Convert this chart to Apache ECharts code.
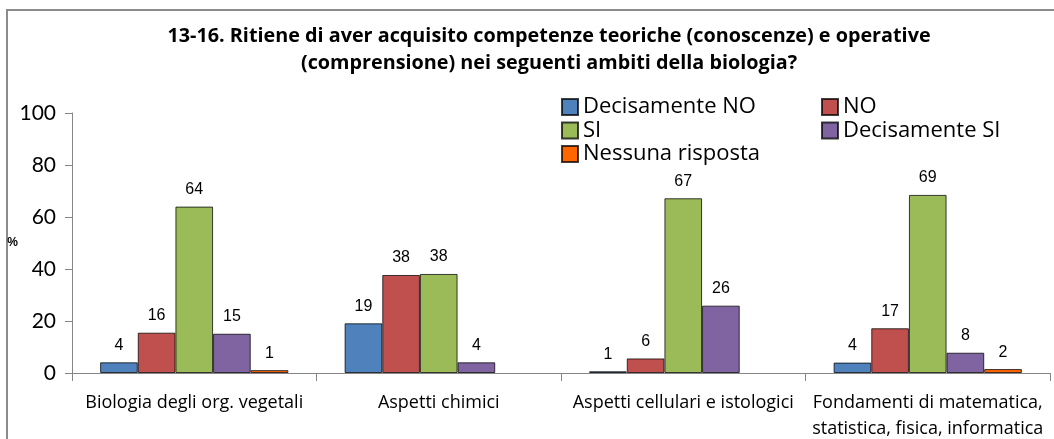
<!DOCTYPE html>
<html>
<head>
<meta charset="utf-8">
<style>
  html, body { margin: 0; padding: 0; background: #fff; }
  #chart { width: 1054px; height: 439px; }
</style>
<script src="https://cdn.jsdelivr.net/npm/echarts@6/dist/echarts.min.js"></script>
</head>
<body>
<div id="chart"></div>
<script>
// categorie e valori (%)
var categorie = ['Biologia degli org. vegetali', 'Aspetti chimici', 'Aspetti cellulari e istologici', 'Fondamenti di matematica,\nstatistica, fisica, informatica'];
var decisamenteNo = [4.1, 19.1, 0.65, 4.0];
var no = [15.5, 37.7, 5.6, 17.2];
var si = [64.0, 38.1, 67.2, 68.5];
var decisamenteSi = [15.1, 4.1, 25.9, 7.8];
var nessunaRisposta = [1.1, null, null, 1.5];
var yTicks = [0, 20, 40, 60, 80, 100];

var sans = '"Open Sans", Lato, sans-serif';
var lato = 'Lato, "Open Sans", sans-serif';
var arial = '"Liberation Sans", Arial, sans-serif';

var chart = echarts.init(document.getElementById('chart'), null, {renderer: 'canvas'});

function serie(nome, dati, colore) {
    return {
        name: nome,
        type: 'bar',
        data: dati,
        barGap: 0,
        barCategoryGap: '23%',
        itemStyle: {color: colore, borderColor: 'rgba(0,0,0,0.75)', borderWidth: 1},
        label: {
            show: true,
            position: 'top',
            distance: 9,
            fontFamily: arial,
            fontSize: 16,
            color: '#000',
            formatter: function (p) {
                return p.value == null ? '' : Math.round(p.value);
            }
        }
    };
}

var legendText = {fontFamily: sans, fontSize: 22, color: '#000', lineHeight: 18};

var option = {
    animation: false,
    title: {
        text: '13-16. Ritiene di aver acquisito competenze teoriche (conoscenze) e operative\n(comprensione) nei seguenti ambiti della biologia?',
        left: 544,
        textAlign: 'center',
        top: 18,
        textStyle: {fontFamily: sans, fontSize: 19.8, fontWeight: 'bold', color: '#000', lineHeight: 27}
    },
    graphic: [{
        type: 'rect',
        shape: {x: 7, y: 10, width: 1100, height: 500},
        style: {fill: 'none', stroke: '#8c8c8c', lineWidth: 2},
        silent: true
    }],
    legend: [
        {
            data: ['Decisamente NO', 'SI', 'Nessuna risposta'],
            orient: 'vertical',
            icon: 'rect',
            left: 556, top: 91,
            itemWidth: 16, itemHeight: 16, itemGap: 1.5,
            textStyle: legendText
        },
        {
            data: ['NO', 'Decisamente SI'],
            orient: 'vertical',
            icon: 'rect',
            left: 816, top: 91,
            itemWidth: 16, itemHeight: 16, itemGap: 1.5,
            textStyle: legendText
        }
    ],
    grid: {left: 72, right: 4, top: 113, bottom: 66, outerBoundsMode: 'none'},
    xAxis: {
        type: 'category',
        data: categorie,
        axisLine: {lineStyle: {color: '#868686'}},
        axisTick: {show: true, length: 8, lineStyle: {color: '#868686'}},
        axisLabel: {fontFamily: sans, fontSize: 18, color: '#000', margin: 17, lineHeight: 26, interval: 0}
    },
    yAxis: {
        type: 'value',
        min: yTicks[0],
        max: yTicks[yTicks.length - 1],
        interval: 20,
        name: '%',
        nameLocation: 'middle',
        nameRotate: 0,
        nameGap: 54,
        nameMoveOverlap: false,
        nameTextStyle: {fontFamily: arial, fontSize: 12, fontWeight: 'bold', color: '#000'},
        axisLine: {show: true, lineStyle: {color: '#868686'}},
        axisTick: {show: true, length: 7, lineStyle: {color: '#868686'}},
        splitLine: {show: false},
        axisLabel: {fontFamily: lato, fontSize: 21, color: '#000', margin: 16}
    },
    series: [
        serie('Decisamente NO', decisamenteNo, '#4F81BD'),
        serie('NO', no, '#C0504D'),
        serie('SI', si, '#9BBB59'),
        serie('Decisamente SI', decisamenteSi, '#8064A2'),
        serie('Nessuna risposta', nessunaRisposta, '#FF6600')
    ]
};

chart.setOption(option);
</script>
</body>
</html>
